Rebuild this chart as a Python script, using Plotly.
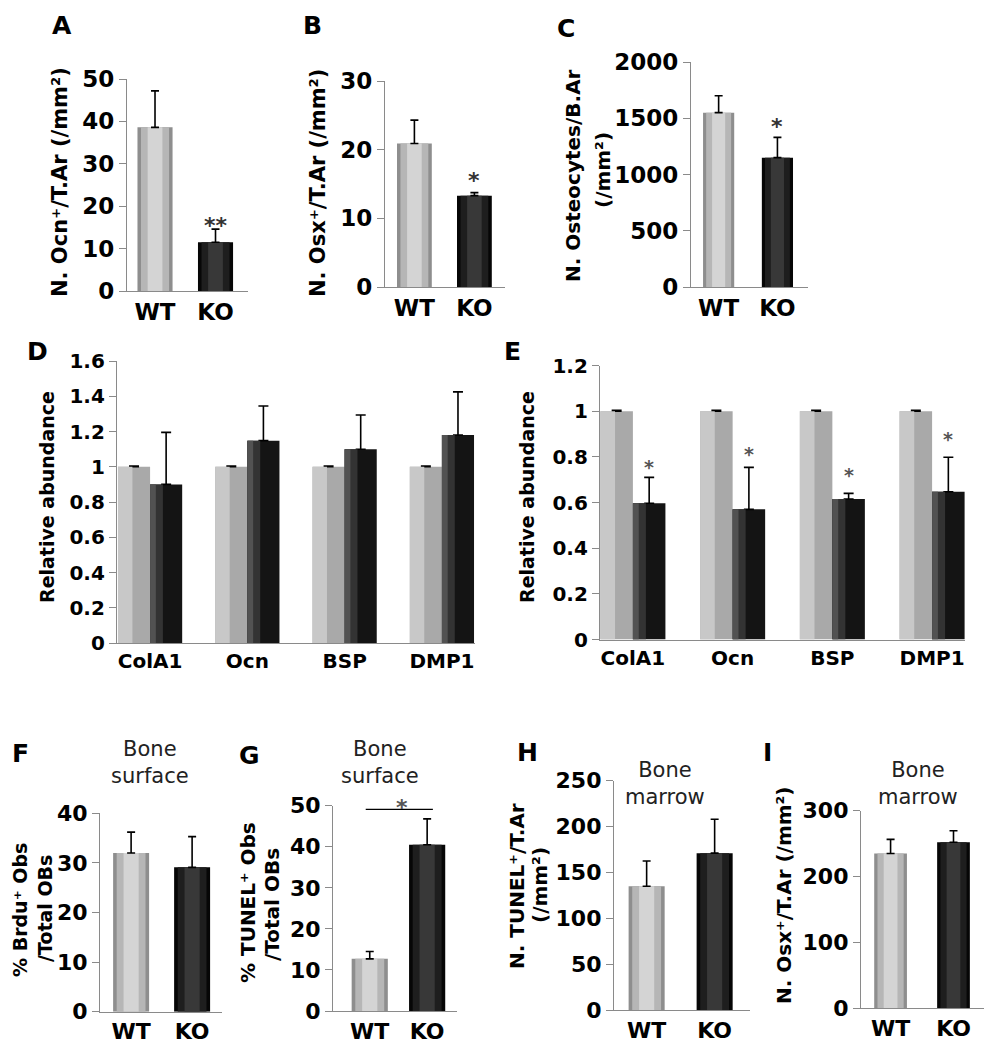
import plotly.graph_objects as go

W, H = 992, 1050
OFF = 8  # the page body adds an 8 px margin around the plot
FONT = "DejaVu Sans"
AX = "#8a8a8a"

# ---- data ----
groups = ["WT", "KO"]

a_mean = [38.6, 11.5]
a_sem = [8.6, 3.1]
b_mean = [20.9, 13.3]
b_sem = [3.4, 0.45]
c_mean = [1550, 1150]
c_sem = [150, 180]

genes = ["ColA1", "Ocn", "BSP", "DMP1"]
d_wt = [1.0, 1.0, 1.0, 1.0]
d_wt_sem = [0.004, 0.004, 0.004, 0.004]
d_ko = [0.90, 1.148, 1.099, 1.18]
d_ko_sem = [0.295, 0.197, 0.195, 0.245]

e_wt = [1.0, 1.0, 1.0, 1.0]
e_wt_sem = [0.004, 0.004, 0.004, 0.004]
e_ko = [0.597, 0.570, 0.615, 0.647]
e_ko_sem = [0.113, 0.184, 0.025, 0.151]
e_star_y = [0.783, 0.837, 0.745, 0.903]

f_mean = [32.0, 29.1]
f_sem = [4.2, 6.2]
g_mean = [12.7, 40.5]
g_sem = [1.8, 6.3]
h_mean = [135, 171]
h_sem = [27.5, 37]
i_mean = [235, 252]
i_sem = [21.5, 17.5]

fig = go.Figure()


def fx(px):
    return (px - OFF) / W


def fy(py):
    return 1 - (py - OFF) / H


def tfont(size, color="black", weight="bold"):
    return dict(family=FONT, size=size, color=color, weight=weight)


def add_axes(n, x0, x1, ytop, ybot, xr, yr, dtick, ticktext, size=21):
    xa = "xaxis" if n == 1 else f"xaxis{n}"
    ya = "yaxis" if n == 1 else f"yaxis{n}"
    fig.update_layout(**{
        xa: dict(domain=[fx(x0), fx(x1)], range=xr, anchor=f"y{n}",
                 showline=True, linecolor=AX, linewidth=1.2, ticks="",
                 tickmode="array", tickvals=list(range(len(ticktext))),
                 ticktext=ticktext, tickfont=tfont(size),
                 showgrid=False, zeroline=False, automargin=False),
        ya: dict(domain=[fy(ybot), fy(ytop)], range=yr, anchor=f"x{n}",
                 showline=True, linecolor=AX, linewidth=1.2, ticks="outside",
                 ticklen=7, tickcolor=AX, dtick=dtick, tickfont=tfont(size),
                 showgrid=False, zeroline=False, automargin=False),
    })


def refs(n):
    return ("x" if n == 1 else f"x{n}"), ("y" if n == 1 else f"y{n}")


def cyl_bars(n, means, sems, width):
    # fake the shaded "cylinder" look with stacked narrower bars
    xr_, yr_ = refs(n)
    xs = list(range(len(means)))
    layers = [(1.0, ["#8e8e8e", "#060606"]),
              (0.8, ["#b6b6b6", "#1e1e1e"]),
              (0.42, ["#d4d4d4", "#383838"])]
    for k, (frac, cols) in enumerate(layers):
        last = k == len(layers) - 1
        fig.add_trace(go.Bar(
            x=xs, y=means, width=width * frac, xaxis=xr_, yaxis=yr_,
            marker=dict(color=cols, line=dict(width=0)),
            error_y=dict(type="data", symmetric=False, array=sems,
                         arrayminus=[0] * len(sems), color="black",
                         thickness=1.6, width=4, visible=last),
            showlegend=False, hoverinfo="skip",
        ))


def band_bars(n, means, sems, centre_shift, width, base, bands):
    xr_, yr_ = refs(n)
    xs = [i + centre_shift for i in range(len(means))]
    fig.add_trace(go.Bar(
        x=xs, y=means, width=width, xaxis=xr_, yaxis=yr_,
        marker=dict(color=base, line=dict(width=0)),
        error_y=dict(type="data", symmetric=False, array=sems,
                     arrayminus=[0] * len(sems), color="black",
                     thickness=1.6, width=5),
        showlegend=False, hoverinfo="skip",
    ))
    for frac, col in bands:
        bx = [x - width / 2 + width * frac / 2 for x in xs]
        fig.add_trace(go.Bar(
            x=bx, y=means, width=width * frac, xaxis=xr_, yaxis=yr_,
            marker=dict(color=col, line=dict(width=0)),
            showlegend=False, hoverinfo="skip",
        ))


# ---- panels A-C ----
add_axes(1, 127, 248, 79, 291, [-0.463, 1.537], [0, 50], 10, groups, 23)
cyl_bars(1, a_mean, a_sem, 0.58)
add_axes(2, 385, 505, 81, 287, [-0.49, 1.51], [0, 30], 10, groups, 23)
cyl_bars(2, b_mean, b_sem, 0.58)
add_axes(3, 691, 808, 62, 287, [-0.47, 1.52], [0, 2000], 500, groups, 23)
cyl_bars(3, c_mean, c_sem, 0.53)

# ---- panels D-E ----
add_axes(4, 117, 475, 361, 643, [-0.34, 3.34], [0, 1.6], 0.2, genes, 20)
band_bars(4, d_wt, d_wt_sem, -0.165, 0.33, "#a9a9a9", [(0.45, "#c8c8c8")])
band_bars(4, d_ko, d_ko_sem, 0.165, 0.33, "#141414", [(0.4, "#333333"), (0.18, "#525252")])
add_axes(5, 600, 965, 365.5, 639.5, [-0.33, 3.33], [0, 1.2], 0.2, genes, 20)
band_bars(5, e_wt, e_wt_sem, -0.163, 0.326, "#a9a9a9", [(0.45, "#c8c8c8")])
band_bars(5, e_ko, e_ko_sem, 0.163, 0.326, "#141414", [(0.4, "#333333"), (0.18, "#525252")])
fig.update_layout(yaxis4=dict(tickformat="~g"), yaxis5=dict(tickformat="~g"))

# ---- panels F-I ----
add_axes(6, 100, 222, 813.3, 1011.7, [-0.51, 1.49], [0, 40], 10, groups, 22)
cyl_bars(6, f_mean, f_sem, 0.59)
add_axes(7, 333, 457, 805.7, 1011, [-0.64, 1.52], [0, 50], 10, groups, 22)
cyl_bars(7, g_mean, g_sem, 0.63)
add_axes(8, 614, 750, 780.7, 1010, [-0.48, 1.52], [0, 250], 50, groups, 22)
cyl_bars(8, h_mean, h_sem, 0.53)
add_axes(9, 861, 990, 810.7, 1008.3, [-0.47, 1.58], [0, 300], 100, groups, 22)
cyl_bars(9, i_mean, i_sem, 0.52)

ann = []

# panel letters
for letter, px, py in [("A", 62, 26), ("B", 312, 26), ("C", 566, 28),
                       ("D", 37, 351), ("E", 512, 351),
                       ("F", 20, 753), ("G", 249, 755), ("H", 527, 752), ("I", 767, 752)]:
    ann.append(dict(text=letter, x=fx(px), y=fy(py), xref="paper", yref="paper",
                    showarrow=False, xanchor="center", yanchor="middle", font=tfont(25)))

# y-axis titles
ytitles = [
    ("N. Ocn⁺/T.Ar (/mm²)", 60, 182, 21),
    ("N. Osx⁺/T.Ar (/mm²)", 318, 183, 21),
    ("N. Osteocytes/B.Ar", 573, 176, 20),
    ("(/mm²)", 603, 170, 20),
    ("Relative abundance", 47, 497, 19),
    ("Relative abundance", 527, 497, 19),
    ("% Brdu⁺ Obs", 20, 910, 19),
    ("/Total OBs", 45, 909, 19),
    ("% TUNEL⁺ Obs", 248, 903, 20),
    ("/Total OBs", 272, 905, 20),
    ("N. TUNEL⁺/T.Ar", 517, 886, 20),
    ("(/mm²)", 540, 885, 20),
    ("N. Osx⁺/T.Ar (/mm²)", 784, 895, 20),
]
for txt, px, py, sz in ytitles:
    ann.append(dict(text=txt, x=fx(px), y=fy(py), xref="paper", yref="paper",
                    textangle=-90, showarrow=False, xanchor="center",
                    yanchor="middle", font=tfont(sz)))

# site labels
for txt, px, py in [("Bone<br>surface", 150, 762), ("Bone<br>surface", 380, 762),
                    ("Bone<br>marrow", 665, 783), ("Bone<br>marrow", 918, 783)]:
    ann.append(dict(text=txt, x=fx(px), y=fy(py), xref="paper", yref="paper",
                    showarrow=False, xanchor="center", yanchor="middle",
                    font=tfont(21, "#222", "normal")))

# significance stars
stars = [(1, 1, 17.2, "**", "#333", -7), (2, 1, 16.6, "*", "#333", -7),
         (3, 1, 1493, "*", "#333", -7), (7, 0.57, 49.1, "*", "#555", 2)]
for n, xv, yv, s, col, ys in stars:
    xr_, yr_ = refs(n)
    ann.append(dict(text=s, x=xv, y=yv, xref=xr_, yref=yr_, showarrow=False,
                    xanchor="center", yanchor="middle", yshift=ys, font=tfont(22, col)))
for i, yv in enumerate(e_star_y):
    ann.append(dict(text="*", x=i + 0.163, y=yv, xref="x5", yref="y5", showarrow=False,
                    xanchor="center", yanchor="middle", yshift=-6, font=tfont(19, "#555")))

fig.add_shape(type="line", xref="x7", yref="y7", x0=-0.07, x1=1.1, y0=49.1, y1=49.1,
              line=dict(color="black", width=1.2))

fig.update_layout(
    annotations=ann,
    barmode="overlay",
    width=W, height=H,
    margin=dict(l=0, r=0, t=0, b=0, pad=0, autoexpand=False),
    paper_bgcolor="white", plot_bgcolor="white",
    showlegend=False,
    font=dict(family=FONT),
)

fig.write_html("out.html")
